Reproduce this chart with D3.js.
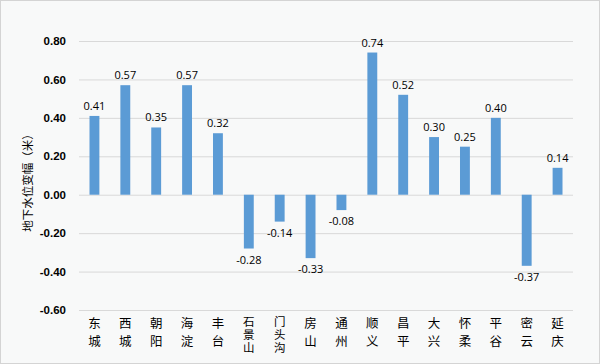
<!DOCTYPE html>
<html>
<head>
<meta charset="utf-8">
<script src="https://cdn.jsdelivr.net/npm/d3@7"></script>
<style>
  body { margin: 0; background: #fff; }
  svg { display: block; }
</style>
</head>
<body>
<div id="container"></div>
<script>
// district names and water level change (m)
const districts = ["东城", "西城", "朝阳", "海淀", "丰台", "石景山", "门头沟", "房山", "通州", "顺义", "昌平", "大兴", "怀柔", "平谷", "密云", "延庆"];
const changes = [0.41, 0.57, 0.35, 0.57, 0.32, -0.28, -0.14, -0.33, -0.08, 0.74, 0.52, 0.30, 0.25, 0.40, -0.37, 0.14];
const yTicks = [-0.6, -0.4, -0.2, 0, 0.2, 0.4, 0.6, 0.8];
const yTitle = "地下水位变幅（米）";

const width = 600, height = 364;
const margin = { top: 41, right: 27, bottom: 54, left: 79 };

// plain hyphen instead of d3's unicode minus
const fmt = d => d3.format(".2f")(d).replace("−", "-");

const svg = d3.select("#container")
  .append("svg")
  .attr("width", width)
  .attr("height", height);

svg.append("rect")
  .attr("x", 0.5).attr("y", 0.5)
  .attr("width", width - 1).attr("height", height - 1)
  .attr("fill", "#f8f9f9")
  .attr("stroke", "#d4d4d4");

const x = d3.scaleBand()
  .domain(districts)
  .range([margin.left, width - margin.right])
  .paddingInner(0.68)
  .paddingOuter(0.34);

const y = d3.scaleLinear()
  .domain([-0.6, 0.8])
  .range([height - margin.bottom, margin.top]);

// grid
svg.append("g")
  .attr("transform", `translate(${margin.left},0)`)
  .call(d3.axisLeft(y).tickValues(yTicks).tickSize(-(width - margin.left - margin.right)).tickFormat(""))
  .call(g => g.select(".domain").remove())
  .call(g => g.selectAll("line").attr("stroke", "#d9d9d9"));

// y tick labels
svg.append("g")
  .attr("transform", `translate(${margin.left - 13},0)`)
  .call(d3.axisLeft(y).tickValues(yTicks).tickSize(0).tickFormat(fmt))
  .call(g => g.select(".domain").remove())
  .call(g => g.selectAll("text")
    .attr("font-family", "'Liberation Sans', Arial, sans-serif")
    .attr("font-size", 11.5)
    .attr("font-weight", "bold")
    .attr("fill", "#000")
    .attr("x", 0));

// y title
svg.append("text")
  .attr("transform", `translate(32,180) rotate(-90)`)
  .attr("text-anchor", "middle")
  .attr("font-family", "'Noto Sans CJK SC', sans-serif")
  .attr("font-size", 11.5)
  .attr("fill", "#000")
  .text(yTitle);

// bars
svg.append("g")
  .selectAll("rect")
  .data(changes)
  .join("rect")
  .attr("x", (d, i) => x(districts[i]))
  .attr("width", x.bandwidth())
  .attr("y", d => y(Math.max(0, d)))
  .attr("height", d => Math.abs(y(d) - y(0)))
  .attr("fill", "#5b9bd5");

// value labels
svg.append("g")
  .selectAll("text")
  .data(changes)
  .join("text")
  .attr("x", (d, i) => x(districts[i]) + x.bandwidth() / 2)
  .attr("y", d => d >= 0 ? y(d) - 6 : y(d) + 15)
  .attr("text-anchor", "middle")
  .attr("font-family", "'Open Sans', 'Noto Sans', sans-serif")
  .attr("font-size", 11)
  .attr("fill", "#000")
  .text(fmt);

// category labels, one character per line; three-character names are packed tighter
const cat = svg.append("g")
  .selectAll("text")
  .data(districts)
  .join("text")
  .attr("x", d => x(d) + x.bandwidth() / 2)
  .attr("y", d => d.length > 2 ? 326 : 328)
  .attr("text-anchor", "middle")
  .attr("font-family", "'Noto Sans CJK SC', sans-serif")
  .attr("font-size", d => d.length > 2 ? 11.5 : 12.5)
  .attr("fill", "#000");

cat.selectAll("tspan")
  .data(d => Array.from(d).map(c => ({ c, n: d.length })))
  .join("tspan")
  .attr("x", function () { return d3.select(this.parentNode).attr("x"); })
  .attr("dy", (t, i) => i === 0 ? 0 : (t.n > 2 ? 13 : 18))
  .text(t => t.c);
</script>
</body>
</html>
